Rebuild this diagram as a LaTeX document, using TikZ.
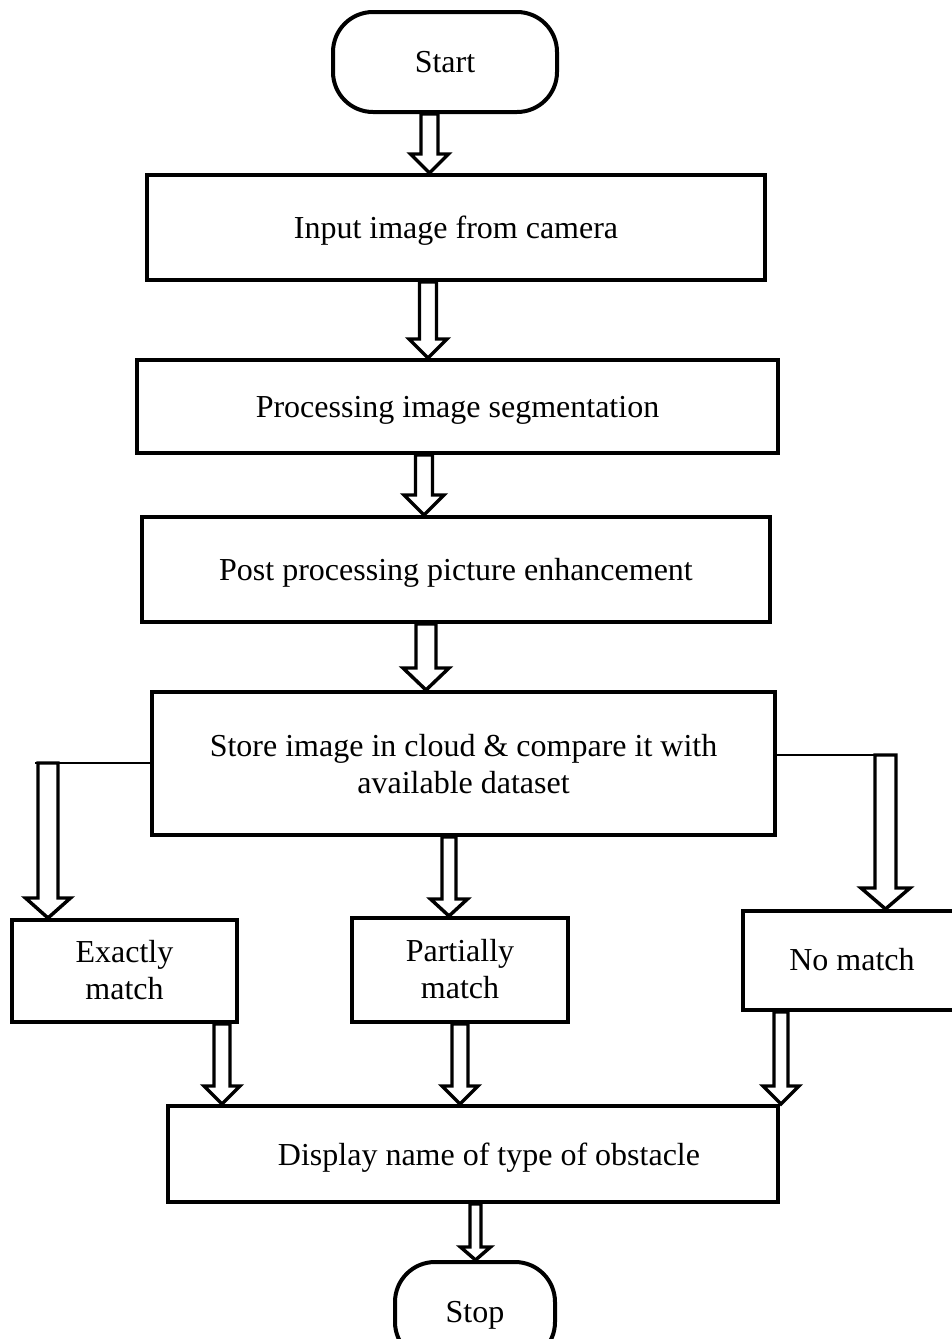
\documentclass[tikz,border=0pt]{standalone}
\usepackage{fontspec}
\setmainfont{Liberation Serif}
\usetikzlibrary{calc}
% text lowered slightly inside its box, as in the reference
\newcommand\tx[2][-3pt]{\raisebox{#1}[\height][\depth]{\begin{tabular}{@{}c@{}}#2\end{tabular}}}
% hollow block arrow: #1 x (px), #2 from, #3 to, #4 half shaft (px), #5 half head (px), #6 head length (px)
\newcommand\harrow[6]{%
  \draw[harr] let \p1=(#2), \p2=(#3), \p3=(#1,0) in
    (\x3-#4*0.75pt,\y1) -- (\x3-#4*0.75pt,\y2+#6*0.75pt) -- (\x3-#5*0.75pt,\y2+#6*0.75pt)
    -- (\x3,\y2) -- (\x3+#5*0.75pt,\y2+#6*0.75pt) -- (\x3+#4*0.75pt,\y2+#6*0.75pt)
    -- (\x3+#4*0.75pt,\y1) -- cycle;}
\begin{document}
\begin{tikzpicture}[x=0.75pt,y=-0.75pt,
  every node/.style={font=\fontsize{24}{27.75}\selectfont, inner sep=0pt, align=center},
  box/.style={draw, line width=3pt, rectangle},
  term/.style={draw, line width=3pt, rectangle, rounded corners=30pt},
  harr/.style={draw, fill=white, line width=2.6pt, miter limit=10},
  side/.style={line width=1.1pt}]
\useasboundingbox (0,0) rectangle (951,1339);

\node[term, minimum width=168pt, minimum height=75pt] (start) at (445,62) {\tx[-2pt]{Start}};
\node[box, minimum width=463.5pt, minimum height=78.75pt] (b1) at (456,227.5) {\tx{Input image from camera}};
\node[box, minimum width=480.75pt, minimum height=69.75pt] (b2) at (457.5,406.5) {\tx{Processing image segmentation}};
\node[box, minimum width=471pt, minimum height=78.75pt] (b3) at (456,569.5) {\tx{Post processing picture enhancement}};
\node[box, minimum width=467.25pt, minimum height=107.25pt] (b4) at (463.5,763.5) {\tx{Store image in cloud \& compare it with\\available dataset}};
\node[box, minimum width=168.75pt, minimum height=76.5pt] (exact) at (124.5,971) {\tx[-2pt]{Exactly\\match}};
\node[box, minimum width=162pt, minimum height=78pt] (partial) at (460,970) {\tx[-2pt]{Partially\\match}};
\node[box, minimum width=163.5pt, minimum height=74.25pt] (nomatch) at (852,960.5) {\tx[-2pt]{No match}};
\node[box, minimum width=457.5pt, minimum height=72pt] (display) at (473,1154) {\tx{\hspace*{24pt}Display name of type of obstacle}};
\node[term, minimum width=120pt, minimum height=75pt] (stop) at (475,1312) {\tx[-2pt]{Stop}};

\coordinate (lc) at (35,763);
\coordinate (rc) at (886,755);
\draw[side] (lc -| b4.west) -- (lc);
\draw[side] (rc -| b4.east) -- (rc);

\harrow{429.5}{start.south}{b1.north}{8.5}{19}{19}
\harrow{428}{b1.south}{b2.north}{8.5}{19}{19}
\harrow{424}{b2.south}{b3.north}{8.5}{20}{20}
\harrow{426}{b3.south}{b4.north}{10}{23}{22}
\harrow{48}{lc}{exact.north}{10}{22.5}{20}
\harrow{449}{b4.south}{partial.north}{7}{18.5}{17}
\harrow{885.5}{rc}{nomatch.north}{10.5}{24.5}{21}
\harrow{222}{exact.south}{display.north}{8}{18}{18}
\harrow{460}{partial.south}{display.north}{8}{18}{18}
\harrow{781}{nomatch.south}{display.north}{7}{18}{18}
\harrow{475.5}{display.south}{stop.north}{5.5}{15}{13}
\end{tikzpicture}
\end{document}
